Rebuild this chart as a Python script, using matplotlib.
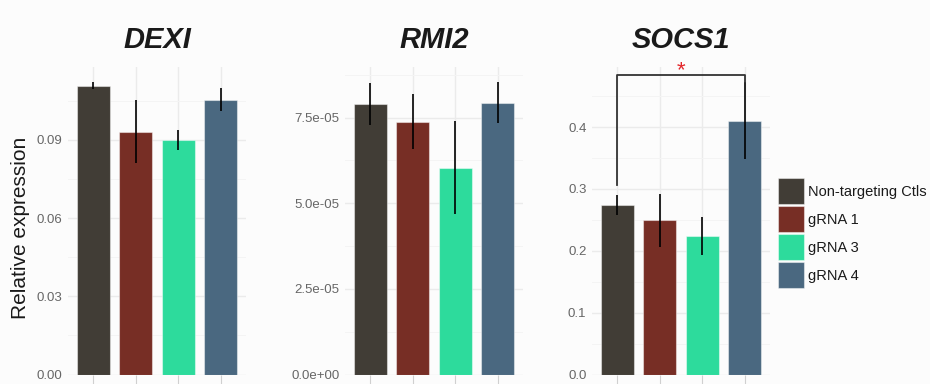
import matplotlib
matplotlib.use("Agg")
import matplotlib.pyplot as plt
from matplotlib.patches import Patch

plt.rcParams['font.family'] = ['Liberation Sans', 'DejaVu Sans']

groups = ["Non-targeting Ctls", "gRNA 1", "gRNA 3", "gRNA 4"]
colors = ["#413d36", "#772e25", "#2ddb9c", "#4a6880"]

genes = ["DEXI", "RMI2", "SOCS1"]

dexi_mean = [0.1109, 0.0932, 0.0899, 0.1055]
dexi_err = [0.0015, 0.0122, 0.0038, 0.0043]

rmi2_mean = [7.89e-05, 7.38e-05, 6.04e-05, 7.94e-05]
rmi2_err = [0.61e-05, 0.80e-05, 1.35e-05, 0.60e-05]

socs1_mean = [0.2746, 0.2493, 0.2240, 0.4103]
socs1_err = [0.0160, 0.0425, 0.0310, 0.0625]

dexi_ticks = [0.00, 0.03, 0.06, 0.09]
dexi_labels = ["0.00", "0.03", "0.06", "0.09"]
rmi2_ticks = [0.0, 2.5e-05, 5.0e-05, 7.5e-05]
rmi2_labels = ["0.0e+00", "2.5e-05", "5.0e-05", "7.5e-05"]
socs1_ticks = [0.0, 0.1, 0.2, 0.3, 0.4]
socs1_labels = ["0.0", "0.1", "0.2", "0.3", "0.4"]

# significance bracket: control vs gRNA 4
sig_pair = (0, 3)
sig_left_foot = 0.307
sig_top = 0.484
sig_right_foot = 0.473

W, H = 930, 384
bg = "#fcfcfc"
fig = plt.figure(figsize=(W / 100, H / 100), dpi=100, facecolor=bg)

top_px, bot_px = 67, 374.5
panels_px = [(68, 246), (345, 523), (592, 770)]
ylims = [0.1180, 8.98e-05, 0.497]

data = [
    (dexi_mean, dexi_err, dexi_ticks, dexi_labels),
    (rmi2_mean, rmi2_err, rmi2_ticks, rmi2_labels),
    (socs1_mean, socs1_err, socs1_ticks, socs1_labels),
]

axes = []
for (x0, x1), gene, ymax, (mean, err, ticks, labels) in zip(panels_px, genes, ylims, data):
    ax = fig.add_axes([x0 / W, 1 - bot_px / H, (x1 - x0) / W, (bot_px - top_px) / H])
    ax.set_facecolor(bg)
    xs = list(range(len(groups)))
    ax.bar(xs, mean, width=0.78, color=colors, edgecolor=(1, 1, 1, 0.45),
           linewidth=0.8, zorder=3)
    ax.errorbar(xs, mean, yerr=err, fmt="none", ecolor="black",
                elinewidth=1.2, capsize=0, zorder=4)
    ax.set_xlim(-0.6, 3.6)
    ax.set_ylim(0, ymax)
    ax.set_yticks(ticks)
    ax.set_yticklabels(labels)
    step = ticks[1] - ticks[0]
    minor = [t + step / 2 for t in ticks if t + step / 2 < ymax]
    ax.set_yticks(minor, minor=True)
    ax.set_xticks(xs)
    ax.set_xticklabels([])
    ax.grid(True, which="major", color="#ebebeb", linewidth=1.0, zorder=0)
    ax.grid(True, which="minor", axis="y", color="#f4f4f4", linewidth=0.7, zorder=0)
    ax.tick_params(axis="y", which="both", length=0, pad=4, labelsize=9.5,
                   labelcolor="#666666")
    ax.tick_params(axis="x", length=7, width=0.8, color="#d0d0d0", direction="out")
    for s in ax.spines.values():
        s.set_visible(False)
    ax.text(0.5, 1 + (top_px - 40.5) / (bot_px - top_px), gene, transform=ax.transAxes,
            ha="center", va="center", fontsize=21, fontweight="bold",
            fontstyle="italic", color="#1a1a1a")
    axes.append(ax)

ax3 = axes[2]
a, b = sig_pair
ax3.plot([a, a, b, b], [sig_left_foot, sig_top, sig_top, sig_right_foot],
         color="#333333", linewidth=1.3, clip_on=False, zorder=5)
ax3.text((a + b) / 2, 0.482, "*", ha="center", va="baseline", fontsize=16,
         color="#e3272b", clip_on=False)

fig.text(20 / W, 1 - 228 / H, "Relative expression", rotation=90,
         ha="center", va="center", fontsize=15, color="#1a1a1a")

handles = [Patch(facecolor=c, edgecolor=(1, 1, 1, 0.45), linewidth=0.8) for c in colors]
fig.legend(handles, groups, loc="upper left", bbox_to_anchor=(778 / W, 1 - 178 / H),
           frameon=False, fontsize=10.5, handlelength=1.78, handleheight=2.37,
           labelspacing=0.14, handletextpad=0.27, borderpad=0, borderaxespad=0,
           labelcolor="#1a1a1a")

fig.savefig("out.png", dpi=100, facecolor=bg)
